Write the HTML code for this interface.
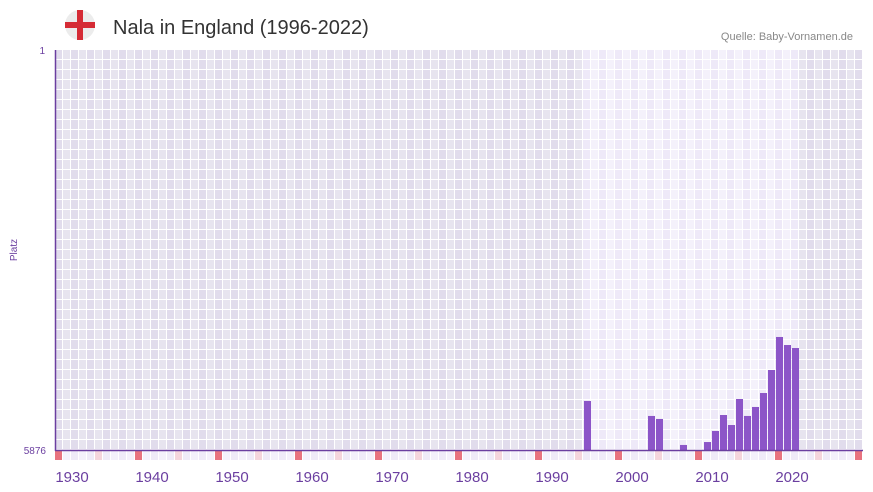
<!DOCTYPE html>
<html><head><meta charset="utf-8">
<style>
body{margin:0;background:#fff;font-family:"Liberation Sans",sans-serif;}
#wrap{position:relative;width:873px;height:492px;overflow:hidden;}
</style></head>
<body>
<div id="wrap">
<svg id="chart" width="873" height="492" xmlns="http://www.w3.org/2000/svg">
  <g>
    <circle cx="80" cy="25" r="15" fill="#ececec"/>
    <rect x="77" y="10" width="6" height="30" fill="#d52b35"/>
    <rect x="65" y="22" width="30" height="6" fill="#d52b35"/>
  </g>
  <text x="113" y="34" font-size="20" fill="#333">Nala in England (1996-2022)</text>
  <text x="853" y="40" font-size="11" fill="#888" text-anchor="end">Quelle: Baby-Vornamen.de</text>
  <g id="grid"></g>
  <g id="bars"></g>
  <line x1="55.5" y1="50" x2="55.5" y2="451" stroke="#6b3fa0" stroke-width="1.5"/>
  <line x1="55" y1="450.5" x2="863" y2="450.5" stroke="#6b3fa0" stroke-width="1.5"/>
  <text x="45" y="54" font-size="10" fill="#6b3fa0" text-anchor="end">1</text>
  <text x="46" y="454" font-size="10" fill="#6b3fa0" text-anchor="end">5876</text>
  <text x="17" y="250" font-size="10" fill="#6b3fa0" text-anchor="middle" transform="rotate(-90 17 250)">Platz</text>
  <g id="xticks"></g>
</svg>
</div>
<script>
const years = [1994,2002,2003,2006,2009,2010,2011,2012,2013,2014,2015,2016,2017,2018,2019,2020];
const ranks = [5156,5376,5420,5802,5759,5597,5362,5509,5127,5376,5244,5039,4701,4216,4334,4378];
const tickYears = [1930,1940,1950,1960,1970,1980,1990,2000,2010,2020];
const minRank = 1, maxRank = 5876;
const firstYear = 1928, lastYear = 2028, dataStart = 1994, dataEnd = 2020;
const NS = "http://www.w3.org/2000/svg";
const X0 = 55, CW = 8, TOP = 50, BOT = 450;
function xOf(yr){ return X0 + (yr - firstYear) * CW; }
function yOf(r){ return TOP + (r - minRank) / (maxRank - minRank) * (BOT - TOP); }
function mk(tag, attrs, parent){ const e = document.createElementNS(NS, tag); for (const k in attrs) e.setAttribute(k, attrs[k]); parent.appendChild(e); return e; }
const grid = document.getElementById('grid');
for (let yr = firstYear; yr <= lastYear; yr++) {
  const inside = yr >= dataStart && yr <= dataEnd;
  const odd = (yr - firstYear) % 2 === 1;
  const c = inside ? (odd ? '#f4f1fb' : '#eee9f8') : (odd ? '#e7e4ef' : '#e1dcec');
  for (let r = 0; r < 40; r++) {
    const cell = mk('rect', {x: xOf(yr), y: TOP + r * 10, width: CW - 1, height: 9, fill: c}, grid);
    
    
  }
  const d = yr - firstYear;
  const sc = d % 10 === 0 ? '#e8737f' : (d % 10 === 5 ? '#f5d5dc' : (odd ? '#f4f1fb' : '#efebf8'));
  const s = mk('rect', {x: xOf(yr), y: 451, width: CW - 1, height: 9, fill: sc}, grid);
  
  
}
const bars = document.getElementById('bars');
years.forEach((yr, i) => {
  const y = yOf(ranks[i]);
  const b = mk('rect', {x: xOf(yr) + 1, y: y, width: CW - 1, height: BOT - y, fill: '#8c55c8'}, bars);
  
  
});
const xt = document.getElementById('xticks');
tickYears.forEach(t => {
  const tx = mk('text', {x: xOf(t) + 1, y: 482, 'font-size': 15, fill: '#6b3fa0', 'text-anchor': 'middle'}, xt);
  tx.textContent = t;
  
  
});
</script>
</body></html>
